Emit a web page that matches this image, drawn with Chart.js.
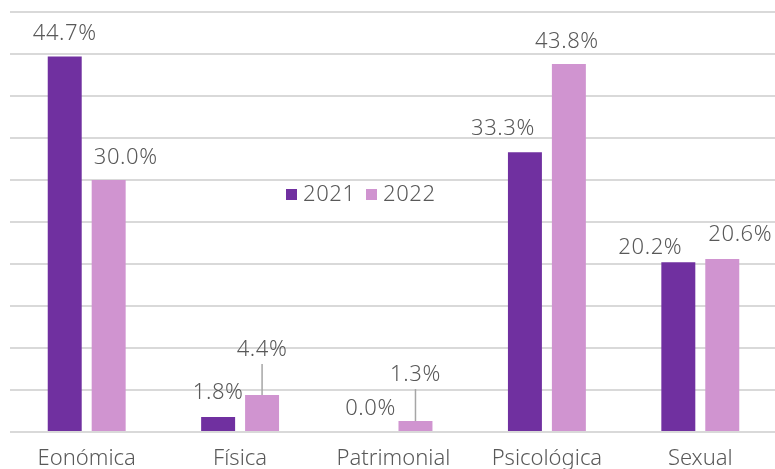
<!DOCTYPE html>
<html>
<head>
<meta charset="utf-8">
<script src="https://cdn.jsdelivr.net/npm/chart.js@4/dist/chart.umd.min.js"></script>
<style>
html,body{margin:0;padding:0;background:#fff;overflow:hidden;width:775px;height:469px;}
#wrap{position:relative;width:780px;height:469px;}
</style>
</head>
<body>
<div id="wrap"><canvas id="c" width="780" height="469"></canvas></div>
<script>
const categories = ["Eonómica", "Física", "Patrimonial", "Psicológica", "Sexual"];
const seriesNames = ["2021", "2022"];
const values2021 = [44.7, 1.8, 0.0, 33.3, 20.2];
const values2022 = [30.0, 4.4, 1.3, 43.8, 20.6];
const yTicks = [0, 5, 10, 15, 20, 25, 30, 35, 40, 45, 50];

const FONT = "'Noto Sans', sans-serif";
const TEXT = "#595959";
const colors = ["#7030A0", "#D094D0"];

// label nudges (style), indexed [dataset][category]
const labelNudge = [
  [[0,-23],[0,-24],[-1,-23],[-22,-24],[-28,-15]],
  [[17,-22],[0,-45],[0,-46],[-2,-22],[18,-24]]
];

const labelPlugin = {
  id: 'valueLabels',
  afterDatasetsDraw(chart) {
    const ctx = chart.ctx;
    ctx.save();
    ctx.font = "300 22px " + FONT;
    if ('letterSpacing' in ctx) ctx.letterSpacing = '0.6px';
    ctx.fillStyle = TEXT;
    ctx.textAlign = 'center';
    ctx.textBaseline = 'middle';
    chart.data.datasets.forEach((ds, di) => {
      const meta = chart.getDatasetMeta(di);
      meta.data.forEach((bar, i) => {
        const [dx, dy] = labelNudge[di][i];
        const x = bar.x + dx, y = bar.y + dy;
        ctx.fillText(ds.data[i].toFixed(1) + '%', x, y);
        if (dy < -35) {
          ctx.strokeStyle = '#a6a6a6';
          ctx.lineWidth = 1.5;
          ctx.beginPath();
          ctx.moveTo(bar.x, y + 14);
          ctx.lineTo(bar.x, bar.y);
          ctx.stroke();
        }
      });
    });
    // legend
    const lx = 286, ly = 195;
    ctx.textAlign = 'left';
    let x = lx;
    chart.data.datasets.forEach((ds) => {
      ctx.fillStyle = ds.backgroundColor;
      ctx.fillRect(x, ly - 6, 11, 11);
      ctx.fillStyle = TEXT;
      ctx.fillText(ds.label, x + 17, ly);
      x += 80;
    });
    if ('letterSpacing' in ctx) ctx.letterSpacing = '0px';
    ctx.restore();
  }
};

new Chart(document.getElementById('c'), {
  type: 'bar',
  data: {
    labels: categories,
    datasets: [
      { label: seriesNames[0], data: values2021, backgroundColor: colors[0] },
      { label: seriesNames[1], data: values2022, backgroundColor: colors[1] }
    ]
  },
  options: {
    responsive: false,
    animation: false,
    layout: { padding: { left: 10, right: 3, top: 12, bottom: 0 } },
    datasets: { bar: { categoryPercentage: 0.573, barPercentage: 0.773 } },
    plugins: { legend: { display: false }, tooltip: { enabled: false } },
    scales: {
      x: {
        grid: { display: false, drawTicks: false },
        border: { display: false },
        afterFit(axis) { axis.height = 37; },
        ticks: { color: TEXT, font: { family: FONT, size: 22, weight: 300 }, padding: 14, maxRotation: 0 }
      },
      y: {
        min: 0, max: 50,
        afterBuildTicks(axis) { axis.ticks = yTicks.map(v => ({ value: v })); },
        grid: { color: '#d9d9d9', lineWidth: 2, drawTicks: false },
        border: { display: false },
        ticks: { display: false }
      }
    }
  },
  plugins: [labelPlugin]
});
</script>
</body>
</html>
